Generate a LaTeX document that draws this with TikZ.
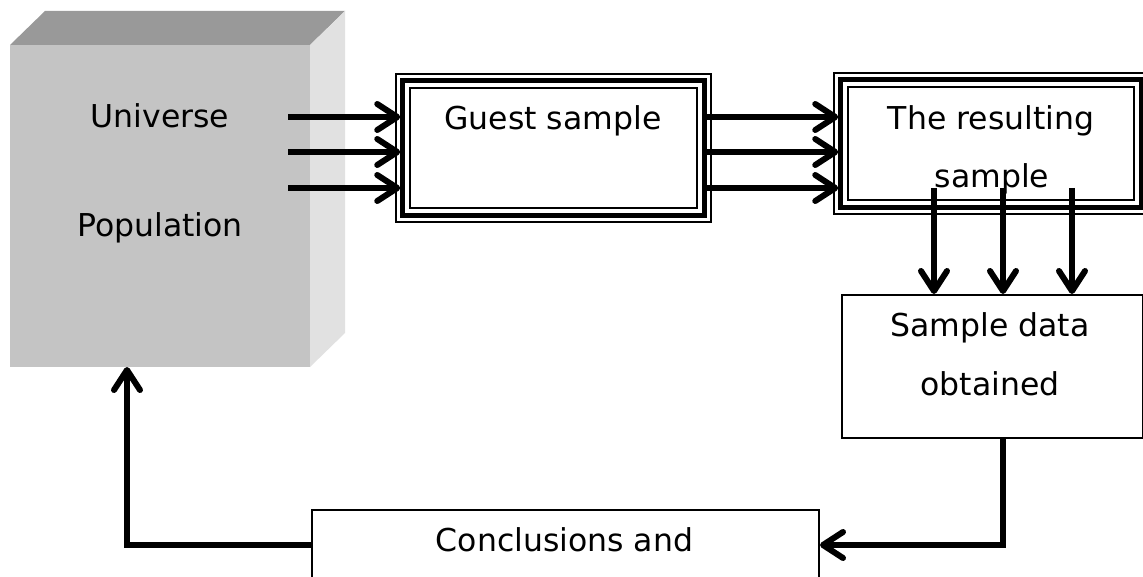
\documentclass[tikz,border=0pt]{standalone}
\usepackage{fontspec}
\setmainfont{DejaVu Sans}
\usetikzlibrary{arrows.meta}
\definecolor{cubefront}{HTML}{C4C4C4}
\definecolor{cubetop}{HTML}{999999}
\definecolor{cubeside}{HTML}{E1E1E1}

\begin{document}
\begin{tikzpicture}[x=1pt,y=-1pt,
  every node/.style={font=\fontsize{31.5}{37}\selectfont, inner sep=0pt},
  lbl/.style={anchor=base},
  flow/.style={line width=6pt, -{Straight Barb[length=20pt,width=26pt,round]}},
  plainbox/.style={draw, line width=2pt, fill=white, anchor=north west},
  thickbox/.style={draw, line width=4.5pt, fill=white},
  thinline/.style={line width=1.5pt}
]
\useasboundingbox (0,0) rectangle (1143,577);
\fill[white] (0,0) rectangle (1143,577);
\clip (0,0) rectangle (1143,577);

% population block drawn as a shaded cube
\node[fill=cubefront, minimum width=300pt, minimum height=322pt,
      anchor=north west, outer sep=0pt] (cube) at (10,45) {};
\fill[cubetop] (cube.north west) -- ([shift={(35,-34)}]cube.north west)
  -- ([shift={(35,-34)}]cube.north east) -- (cube.north east) -- cycle;
\fill[cubeside] (cube.north east) -- ([shift={(35,-34)}]cube.north east)
  -- ([shift={(35,-34)}]cube.south east) -- (cube.south east) -- cycle;
\node[lbl] (tU) at (160,128) {Universe};
\node[lbl] (tP) at (160,237) {Population};

% boxes with a triple border
\node[thickbox, minimum width=302pt, minimum height=135pt] (guest) at (553.5,148) {};
\node[thickbox, minimum width=301pt, minimum height=128pt] (result) at (991,143.5) {};
\foreach \n in {guest,result} {
  \draw[thinline] ([shift={(-4.25,-4.25)}]\n.north west) rectangle ([shift={(4.25,4.25)}]\n.south east);
  \draw[thinline] ([shift={(9.75,9.75)}]\n.north west) rectangle ([shift={(-9.75,-9.75)}]\n.south east);
}
\node[lbl] (tG) at (553,130) {Guest sample};
\node[lbl] (tR1) at (991,130) {The resulting};
\node[lbl] (tR2) at (992,188) {sample};

% plain boxes
\node[plainbox, minimum width=301pt, minimum height=143pt] (data) at (841,294) {};
\node[lbl] (tD1) at (990,337) {Sample data};
\node[lbl] (tD2) at (990,395) {obtained};
\node[plainbox, minimum width=507pt, minimum height=130pt] (concl) at (311,509) {};
\node[lbl] (tC) at (564.5,551) {Conclusions and};

% connector end points
\coordinate (u1) at (288,117);
\coordinate (u2) at (288,152);
\coordinate (u3) at (288,188);
\coordinate (r1) at (934,188);
\coordinate (r2) at (1003,188);
\coordinate (r3) at (1072,188);
\coordinate (cy) at (0,545);
\coordinate (fb) at (127,0);

% connectors
\foreach \u in {u1,u2,u3} {
  \draw[flow] (\u) -- (\u -| guest.west);
  \draw[flow] (guest.east |- \u) -- (\u -| result.west);
}
\foreach \r in {r1,r2,r3} {
  \draw[flow] (\r) -- (\r |- data.north);
}
\draw[flow] (r2 |- data.south) |- (concl.east |- cy);
\draw[flow] (concl.west |- cy) -| (fb |- cube.south);
\end{tikzpicture}
\end{document}
